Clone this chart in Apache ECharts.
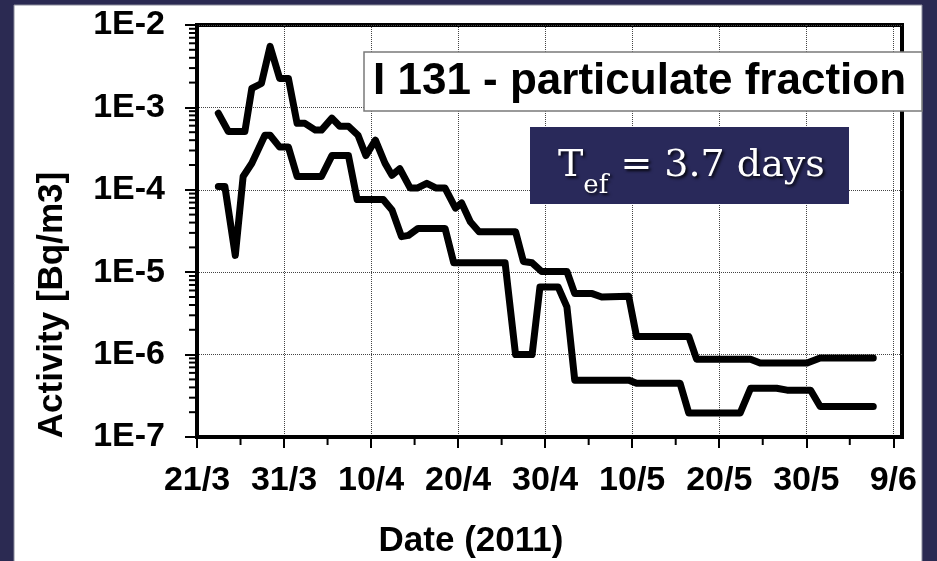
<!DOCTYPE html>
<html>
<head>
<meta charset="utf-8">
<script src="https://cdn.jsdelivr.net/npm/echarts@6/dist/echarts.min.js"></script>
<style>html,body{margin:0;padding:0;background:#2b2a52;}#c{width:937px;height:561px;}</style>
</head>
<body>
<div id="c"></div>
<script>
// Days counted from 21 March 2011
var upperDays = [2.45,3.6,5.5,6.3,7.4,8.4,9.5,10.5,11.5,12.4,13.6,14.3,15.5,16.4,17.4,18.5,19.4,20.5,21.6,22.4,23.3,24.5,25.3,26.4,27.5,28.5,29.7,30.4,31.4,32.4,36.6,37.5,38.5,39.6,42.5,43.4,45.4,46.5,49.6,50.5,56.5,57.4,63.6,64.7,70.1,71.6,77.7];
var upperValues = [8.5e-4,5.1e-4,5.1e-4,1.7e-3,1.95e-3,5.5e-3,2.25e-3,2.25e-3,6.4e-4,6.4e-4,5.3e-4,5.3e-4,7.4e-4,5.9e-4,5.9e-4,4.6e-4,2.6e-4,4.0e-4,2.1e-4,1.5e-4,1.8e-4,1.05e-4,1.05e-4,1.2e-4,1.05e-4,1.05e-4,6.0e-5,6.9e-5,4.1e-5,3.1e-5,3.1e-5,1.35e-5,1.3e-5,1.02e-5,1.02e-5,5.5e-6,5.5e-6,5.0e-6,5.1e-6,1.66e-6,1.66e-6,8.8e-7,8.8e-7,7.9e-7,7.9e-7,9.1e-7,9.1e-7];
var lowerDays = [2.45,3.2,4.4,5.3,6.3,7.8,8.4,9.5,10.5,11.5,14.3,15.5,17.4,18.4,21.4,22.4,23.5,24.3,25.4,28.5,29.5,32.5,35.4,36.6,38.5,39.4,41.5,42.5,43.4,49.6,50.5,55.5,56.5,62.4,63.6,66.6,67.8,70.5,71.6,77.7];
var lowerValues = [1.1e-4,1.1e-4,1.6e-5,1.45e-4,2.1e-4,4.6e-4,4.6e-4,3.3e-4,3.3e-4,1.45e-4,1.45e-4,2.6e-4,2.6e-4,7.6e-5,7.6e-5,5.7e-5,2.7e-5,2.8e-5,3.4e-5,3.4e-5,1.3e-5,1.3e-5,1.3e-5,1.0e-6,1.0e-6,6.6e-6,6.6e-6,3.8e-6,4.9e-7,4.9e-7,4.5e-7,4.5e-7,1.95e-7,1.95e-7,3.9e-7,3.9e-7,3.7e-7,3.7e-7,2.35e-7,2.35e-7];
var xTickDays = [0,10,20,30,40,50,60,70,80];
var xMinorDays = [5,15,25,35,45,55,65,75];
var yMinor = [];
for (var n = -7; n <= -3; n++) { for (var k = 2; k <= 9; k++) { yMinor.push(k * Math.pow(10, n)); } }

function pairs(xs, ys) { return xs.map(function (x, i) { return [x, ys[i]]; }); }
function dayLabel(d) { var dt = new Date(2011, 2, 21 + Math.round(d)); return dt.getDate() + '/' + (dt.getMonth() + 1); }

var chart = echarts.init(document.getElementById('c'));
var axisFont = { fontFamily: 'Liberation Sans', fontWeight: 'bold', fontSize: 34, color: '#000' };
var shadow = { textShadowColor: 'rgba(0,0,0,0.85)', textShadowBlur: 3, textShadowOffsetX: 2, textShadowOffsetY: 2 };
chart.setOption({
  backgroundColor: '#2b2a52',
  animation: false,
  grid: { left: 197, top: 25, right: 35, bottom: 124, show: true, backgroundColor: '#fff', borderColor: '#000', borderWidth: 4 },
  xAxis: {
    type: 'value', min: 0, max: 81, interval: 10,
    axisLine: { show: true, lineStyle: { color: '#000', width: 4 } },
    axisTick: { show: true, inside: false, length: 11, lineStyle: { color: '#000', width: 2 }, customValues: xTickDays },
    axisLabel: Object.assign({ margin: 27, formatter: dayLabel, customValues: xTickDays }, axisFont),
    splitLine: { show: true, lineStyle: { color: '#444', width: 1, type: 'dotted' } }
  },
  yAxis: {
    type: 'log', logBase: 10, min: 1e-7, max: 1e-2,
    axisLine: { show: true, lineStyle: { color: '#000', width: 4 } },
    axisTick: { show: true, inside: false, length: 12, lineStyle: { color: '#000', width: 2 } },
    axisLabel: Object.assign({ margin: 32, formatter: function (v) { return '1E' + Math.round(Math.log10(v)); } }, axisFont),
    splitLine: { show: true, lineStyle: { color: '#444', width: 1, type: 'dotted' } }
  },
  graphic: [
    { type: 'rect', z: -10, shape: { x: 14, y: 5, width: 908, height: 560 }, style: { fill: '#fff', stroke: '#8a8a9a', lineWidth: 1 } },
    { type: 'text', z: 50, x: 52, y: 305, rotation: Math.PI / 2, style: { text: 'Activity [Bq/m3]', fill: '#000', font: 'bold 35px "Liberation Sans"', align: 'center', verticalAlign: 'middle' } },
    { type: 'text', z: 50, x: 471, y: 541, style: { text: 'Date (2011)', fill: '#000', font: 'bold 35px "Liberation Sans"', align: 'center', verticalAlign: 'middle' } },
    { type: 'rect', z: 100, shape: { x: 364, y: 52, width: 558, height: 59 }, style: { fill: '#fff', stroke: '#7a7a7a', lineWidth: 1.5 } },
    { type: 'text', z: 101, x: 373, y: 82, style: { text: 'I 131 - particulate fraction', fill: '#000', font: 'bold 44px "Liberation Sans"', align: 'left', verticalAlign: 'middle' } },
    { type: 'rect', z: 100, shape: { x: 530, y: 127, width: 319, height: 77 }, style: { fill: '#29295a' } },
    { type: 'text', z: 101, x: 558, y: 147, style: {
        text: '{t|T}{s|ef}{t| = 3.7 days}',
        rich: {
          t: Object.assign({ fontFamily: 'DejaVu Serif', fontSize: 38, verticalAlign: 'top', fill: '#fff' }, shadow),
          s: Object.assign({ fontFamily: 'DejaVu Serif', fontSize: 26, verticalAlign: 'top', padding: [26, 0, 0, 0], fill: '#fff' }, shadow)
        },
        align: 'left', verticalAlign: 'top' } }
  ],
  series: [
    { type: 'line', data: pairs(upperDays, upperValues), symbol: 'none', lineStyle: { color: '#000', width: 7, cap: 'round', join: 'round' }, z: 5 },
    { type: 'line', data: pairs(lowerDays, lowerValues), symbol: 'none', lineStyle: { color: '#000', width: 7, cap: 'round', join: 'round' }, z: 5 },
    { type: 'custom', clip: false, silent: true, z: 6, data: yMinor.map(function (v) { return [0, v]; }),
      renderItem: function (params, api) { var p = api.coord([0, api.value(1)]); return { type: 'line', shape: { x1: p[0] - 8, y1: p[1], x2: p[0] - 2, y2: p[1] }, style: { stroke: '#000', lineWidth: 2 } }; } },
    { type: 'custom', clip: false, silent: true, z: 6, data: xMinorDays.map(function (d) { return [d, 1e-7]; }),
      renderItem: function (params, api) { var p = api.coord([api.value(0), 1e-7]); return { type: 'line', shape: { x1: p[0], y1: p[1] + 2, x2: p[0], y2: p[1] + 8 }, style: { stroke: '#000', lineWidth: 2 } }; } }
  ]
});
</script>
</body>
</html>
